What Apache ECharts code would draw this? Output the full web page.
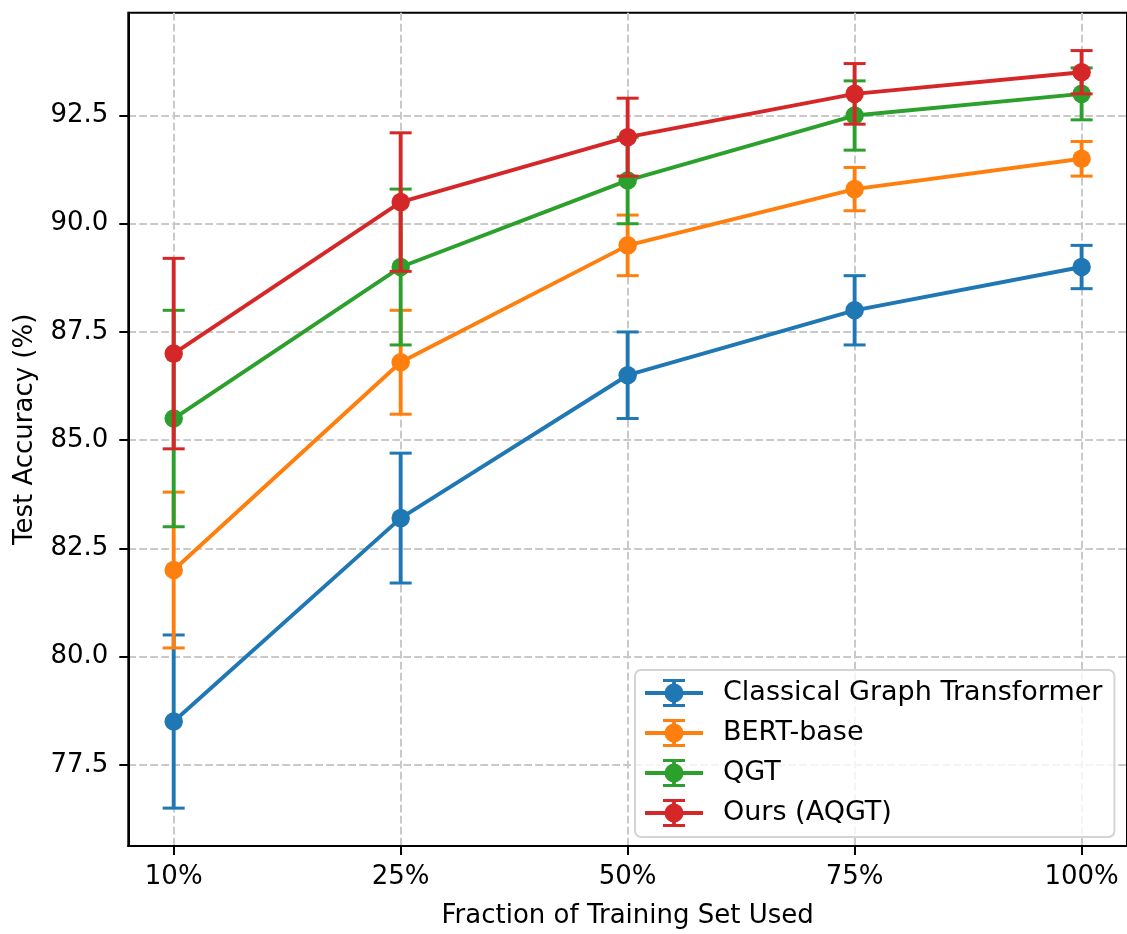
<!DOCTYPE html>
<html><head><meta charset="utf-8">
<script src="https://cdn.jsdelivr.net/npm/echarts@6/dist/echarts.min.js"></script>
<style>html,body{margin:0;padding:0;background:#fff}#c{width:1127px;height:934px}</style>
</head><body><div id="c"></div>
<script>
const categories = ['10%', '25%', '50%', '75%', '100%'];
const seriesNames = ['Classical Graph Transformer', 'BERT-base', 'QGT', 'Ours (AQGT)'];
const classicalMean = [78.5, 83.2, 86.5, 88.0, 89.0];
const classicalErr = [2.0, 1.5, 1.0, 0.8, 0.5];
const bertMean = [82.0, 86.8, 89.5, 90.8, 91.5];
const bertErr = [1.8, 1.2, 0.7, 0.5, 0.4];
const qgtMean = [85.5, 89.0, 91.0, 92.5, 93.0];
const qgtErr = [2.5, 1.8, 1.0, 0.8, 0.6];
const oursMean = [87.0, 90.5, 92.0, 93.0, 93.5];
const oursErr = [2.2, 1.6, 0.9, 0.7, 0.5];
const yTicks = [77.5, 80, 82.5, 85, 87.5, 90, 92.5];

const colors = ['#1f77b4', '#ff7f0e', '#2ca02c', '#d62728'];
const means = [classicalMean, bertMean, qgtMean, oursMean];
const errs = [classicalErr, bertErr, qgtErr, oursErr];
const FONT = 'DejaVu Sans';
const iconPath = 'path://M0 12.1H58V15.9H0Z M27.1 0H30.9V28H27.1Z M18 0H40V3H18Z M18 25H40V28H18Z M38.5 14A9.5 9.5 0 1 1 19.5 14A9.5 9.5 0 1 1 38.5 14Z';

const series = [];
seriesNames.forEach((name, s) => {
  const color = colors[s];
  series.push({
    name: name,
    type: 'custom',
    z: 2 + s * 2,
    itemStyle: { color: color },
    encode: { x: 0, y: [1] },
    data: means[s].map((m, i) => [i, m, errs[s][i]]),
    renderItem: function (params, api) {
      const x = api.value(0), y = api.value(1), e = api.value(2);
      const top = api.coord([x, y + e]);
      const bot = api.coord([x, y - e]);
      const hw = 11;
      return {
        type: 'group',
        children: [
          { type: 'line', shape: { x1: top[0], y1: top[1], x2: bot[0], y2: bot[1] }, style: { stroke: color, lineWidth: 3.9, fill: null } },
          { type: 'line', shape: { x1: top[0] - hw, y1: top[1], x2: top[0] + hw, y2: top[1] }, style: { stroke: color, lineWidth: 3, fill: null } },
          { type: 'line', shape: { x1: bot[0] - hw, y1: bot[1], x2: bot[0] + hw, y2: bot[1] }, style: { stroke: color, lineWidth: 3, fill: null } }
        ]
      };
    }
  });
  series.push({
    name: name,
    type: 'line',
    z: 3 + s * 2,
    data: means[s].map((m, i) => [i, m]),
    symbol: 'circle',
    symbolSize: 18.5,
    itemStyle: { color: color },
    lineStyle: { color: color, width: 3.9 },
    emphasis: { disabled: true },
    animation: false
  });
});

const chart = echarts.init(document.getElementById('c'), null, { renderer: 'canvas' });
chart.setOption({
  animation: false,
  backgroundColor: '#fff',
  grid: { left: 128.3, top: 12.7, width: 1003.2, height: 839, show: true, borderColor: '#000', borderWidth: 2, backgroundColor: 'transparent' },
  xAxis: {
    type: 'value', min: -0.2, max: 4.2,
    name: 'Fraction of Training Set Used', nameLocation: 'middle', nameGap: 57,
    nameTextStyle: { fontFamily: FONT, fontSize: 26, color: '#000' },
    axisLine: { show: true, onZero: false, lineStyle: { color: '#000', width: 2 } },
    axisTick: { show: true, inside: false, length: 9, lineStyle: { color: '#000', width: 2 }, customValues: [0, 1, 2, 3, 4] },
    axisLabel: { fontFamily: FONT, fontSize: 26, color: '#000', margin: 18, customValues: [0, 1, 2, 3, 4], formatter: v => categories[Math.round(v)] },
    splitLine: { show: true, lineStyle: { color: '#c9c9c9', width: 2, type: [7.7, 3.3] } }
  },
  yAxis: {
    type: 'value', min: 75.625, max: 94.875,
    name: 'Test Accuracy (%)', nameLocation: 'middle', nameGap: 90,
    nameTextStyle: { fontFamily: FONT, fontSize: 26, color: '#000' },
    axisLine: { show: true, onZero: false, lineStyle: { color: '#000', width: 2 } },
    axisTick: { show: true, inside: false, length: 9, lineStyle: { color: '#000', width: 2 }, customValues: yTicks },
    axisLabel: { fontFamily: FONT, fontSize: 26, color: '#000', margin: 20, customValues: yTicks, formatter: v => v.toFixed(1) },
    splitLine: { show: true, lineStyle: { color: '#c9c9c9', width: 2, type: [7.7, 3.3] } }
  },
  legend: {
    data: seriesNames.map(n => ({ name: n, icon: iconPath })),
    orient: 'vertical', left: 635, top: 670,
    padding: [9, 12, 10, 10], itemGap: 12, itemWidth: 58, itemHeight: 28,
    backgroundColor: 'rgba(255,255,255,0.8)', borderColor: '#d4d4d4', borderWidth: 2, borderRadius: 6,
    selectedMode: false,
    formatter: '{t|{name}}',
    textStyle: { fontFamily: FONT, fontSize: 27, color: '#000', rich: { t: { fontFamily: FONT, fontSize: 27, color: '#000', padding: [0, 0, 0, 15] } } }
  },
  series: series
});
</script></body></html>
